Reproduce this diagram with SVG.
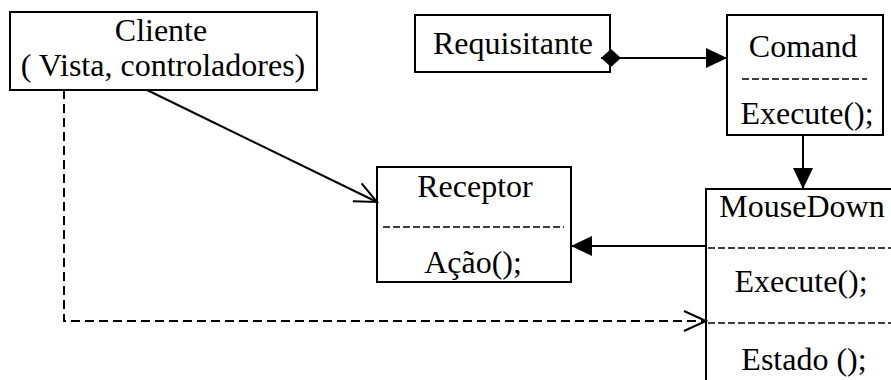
<svg xmlns="http://www.w3.org/2000/svg" width="891" height="380" viewBox="0 0 891 380">
<style>
.box{fill:#fff;stroke:#000;stroke-width:2}
.t{font-family:"Liberation Serif","Times New Roman",serif;font-size:32px;fill:#000;text-anchor:middle}
.sep{stroke:#000;stroke-width:1.6;stroke-dasharray:7 3;fill:none}
.ln{stroke:#000;stroke-width:2;fill:none}
.dash{stroke:#000;stroke-width:2;fill:none;stroke-dasharray:9 5}
</style>
<defs>
<marker id="fill" markerUnits="userSpaceOnUse" markerWidth="22" markerHeight="20" refX="21" refY="10" orient="auto">
<path d="M0,0 L21,10 L0,20 z" fill="#000"/>
</marker>
<marker id="open" markerUnits="userSpaceOnUse" markerWidth="26" markerHeight="24" refX="23" refY="12" orient="auto">
<path d="M1,2 L23,12 L1,22" fill="none" stroke="#000" stroke-width="2"/>
</marker>
<marker id="dia" markerUnits="userSpaceOnUse" markerWidth="22" markerHeight="20" refX="0" refY="9" orient="auto" overflow="visible">
<path d="M0,9 L10,0 L20,9 L10,18 z" fill="#000"/>
</marker>
</defs>
<rect width="891" height="380" fill="#fff"/>
<g id="cliente">
<rect class="box" x="10" y="12" width="307" height="78"/>
<text class="t" x="161" y="41">Cliente</text>
<text class="t" x="163" y="76">( Vista, controladores)</text>
</g>
<g id="requisitante">
<rect class="box" x="415" y="15" width="195" height="57"/>
<text class="t" x="513" y="54">Requisitante</text>
</g>
<g id="comand">
<rect class="box" x="727" y="15" width="156" height="120"/>
<text class="t" x="803" y="57">Comand</text>
<line class="sep" x1="742" y1="79" x2="867" y2="79"/>
<text class="t" x="807" y="124">Execute();</text>
</g>
<g id="receptor">
<rect class="box" x="377" y="167" width="194" height="115"/>
<text class="t" x="475" y="197">Receptor</text>
<line class="sep" x1="383" y1="227" x2="564" y2="227"/>
<text class="t" x="473" y="273">Ação();</text>
</g>
<g id="mousedown">
<rect class="box" x="706" y="189" width="200" height="220"/>
<text class="t" x="802" y="217">MouseDown</text>
<line class="sep" x1="708" y1="248" x2="891" y2="248"/>
<text class="t" x="801" y="292">Execute();</text>
<line class="sep" x1="708" y1="323" x2="891" y2="323"/>
<text class="t" x="804" y="370">Estado ();</text>
</g>
<g id="connectors">
<line class="ln" x1="601" y1="58" x2="727" y2="58" marker-start="url(#dia)" marker-end="url(#fill)"/>
<line class="ln" x1="803" y1="135" x2="803" y2="189" marker-end="url(#fill)"/>
<line class="ln" x1="706" y1="246" x2="571" y2="246" marker-end="url(#fill)"/>
<line class="ln" x1="147" y1="90" x2="377" y2="202" marker-end="url(#open)"/>
<path class="dash" d="M64,90 V321 H706" marker-end="url(#open)"/>
</g>
</svg>
